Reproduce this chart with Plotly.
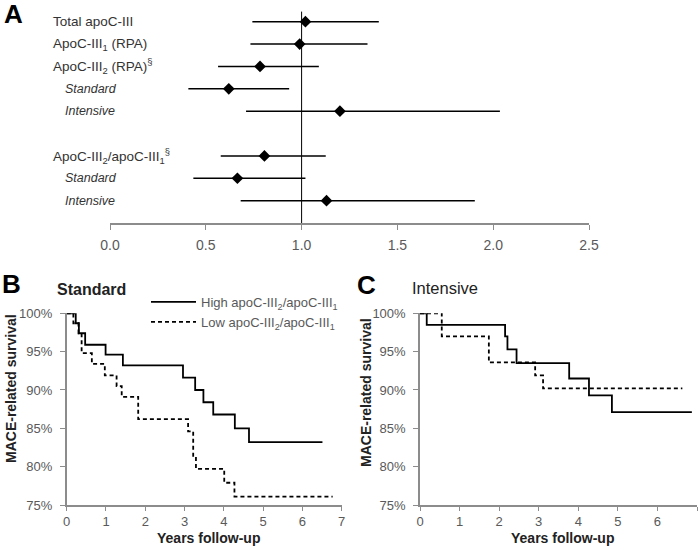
import plotly.graph_objects as go

FONT = "Liberation Sans, Arial, sans-serif"
W, H = 700, 550

# ---------------- Panel A data (forest plot) ----------------
row_labels = ["Total apoC-III", "ApoC-III<sub>1</sub> (RPA)", "ApoC-III<sub>2</sub> (RPA)<sup>§</sup>",
              "<i>Standard</i>", "<i>Intensive</i>",
              "ApoC-III<sub>2</sub>/apoC-III<sub>1</sub><sup>§</sup>", "<i>Standard</i>", "<i>Intensive</i>"]
row_pos = [0, 1, 2, 3, 4, 6, 7, 8]
row_indent = [False, False, False, True, True, False, True, True]
est = [1.02, 0.99, 0.783, 0.62, 1.20, 0.806, 0.665, 1.13]
ci_lo = [0.743, 0.733, 0.564, 0.409, 0.71, 0.578, 0.435, 0.682]
ci_hi = [1.403, 1.344, 1.09, 0.935, 2.035, 1.126, 1.02, 1.904]
ref_value = 1.0
a_ticks = [0.0, 0.5, 1.0, 1.5, 2.0, 2.5]

# ---------------- Panel B data (Standard) ----------------
b_high_t = [0, 0.23, 0.31, 0.47, 0.99, 1.43, 2.96, 3.27, 3.48, 3.73, 4.28, 4.64, 6.51]
b_high_s = [100, 98.7, 97.4, 95.9, 94.6, 93.2, 91.6, 90.0, 88.4, 86.8, 85.0, 83.2, 83.2]
b_low_t = [0, 0.17, 0.3, 0.38, 0.64, 0.97, 1.27, 1.4, 1.82, 3.09, 3.22, 3.29, 4.01, 4.27, 6.77]
b_low_s = [100, 98.7, 97.4, 94.8, 93.4, 91.9, 90.5, 89.1, 86.2, 84.6, 81.4, 79.7, 77.9, 76.1, 76.1]

# ---------------- Panel C data (Intensive) ----------------
c_high_t = [0, 0.17, 2.15, 2.21, 2.44, 3.77, 4.27, 4.85, 6.87]
c_high_s = [100, 98.5, 97.0, 95.3, 93.5, 91.5, 89.3, 87.1, 87.1]
c_low_t = [0, 0.55, 1.74, 2.91, 3.11, 6.63]
c_low_s = [100, 97.0, 93.6, 91.9, 90.2, 90.2]

km_xticks = [0, 1, 2, 3, 4, 5, 6, 7]
km_yticks = [75, 80, 85, 90, 95, 100]
km_ytext = [f"{v}%" for v in km_yticks]

legend_high = "High apoC-III<sub>2</sub>/apoC-III<sub>1</sub>"
legend_low = "Low apoC-III<sub>2</sub>/apoC-III<sub>1</sub>"

TICKC = "#595959"
AXC = "#8c8c8c"
TXT = "#222222"

def px_x(p):
    return p / W

def px_y(p):
    return 1 - p / H

fig = go.Figure()

# Panel A
fig.add_trace(go.Scatter(x=[ref_value, ref_value], y=[-0.45, 9], mode="lines",
                         line=dict(color="black", width=1), xaxis="x", yaxis="y",
                         showlegend=False, hoverinfo="skip"))
fig.add_trace(go.Scatter(
    x=est, y=row_pos, mode="markers", xaxis="x", yaxis="y", showlegend=False,
    marker=dict(symbol="diamond", size=9, color="black"),
    error_x=dict(type="data", symmetric=False,
                 array=[h - e for h, e in zip(ci_hi, est)],
                 arrayminus=[e - l for e, l in zip(est, ci_lo)],
                 color="black", thickness=1.5, width=0)))

# Panel B
fig.add_trace(go.Scatter(x=b_high_t, y=b_high_s, mode="lines", line_shape="hv",
                         line=dict(color="black", width=1.8), name=legend_high,
                         xaxis="x2", yaxis="y2", showlegend=True))
fig.add_trace(go.Scatter(x=b_low_t, y=b_low_s, mode="lines", line_shape="hv",
                         line=dict(color="black", width=1.8, dash="4px,3px"), name=legend_low,
                         xaxis="x2", yaxis="y2", showlegend=True))
# Panel C
fig.add_trace(go.Scatter(x=c_high_t, y=c_high_s, mode="lines", line_shape="hv",
                         line=dict(color="black", width=1.8), name=legend_high,
                         xaxis="x3", yaxis="y3", showlegend=False))
fig.add_trace(go.Scatter(x=c_low_t, y=c_low_s, mode="lines", line_shape="hv",
                         line=dict(color="black", width=1.8, dash="4px,3px"), name=legend_low,
                         xaxis="x3", yaxis="y3", showlegend=False))

tickfont = dict(family=FONT, size=13, color=TICKC)

km_x = dict(range=[0, 7], tickvals=km_xticks, showline=True, linecolor=AXC, linewidth=1.5,
            ticks="outside", ticklen=4, tickcolor=AXC, tickwidth=1, showgrid=False,
            zeroline=False, tickfont=tickfont, fixedrange=True, automargin=False)
km_y = dict(range=[75, 100], tickvals=km_yticks, ticktext=km_ytext, showline=True,
            linecolor=AXC, linewidth=1.5, ticks="outside", ticklen=5, tickcolor=AXC,
            tickwidth=1, showgrid=False, zeroline=False, tickfont=tickfont,
            ticklabelstandoff=5, fixedrange=True, automargin=False)

km_ydom = [px_y(505), px_y(313.3)]

fig.update_layout(
    template="none",
    width=W, height=H, margin=dict(l=0, r=0, t=0, b=0, pad=0, autoexpand=False),
    paper_bgcolor="white", plot_bgcolor="white",
    font=dict(family=FONT, color=TXT),
    xaxis=dict(domain=[px_x(110), px_x(589)], range=[0, 2.5], tickvals=a_ticks,
               tickformat=".1f", showline=True, linecolor=AXC, linewidth=1.5,
               ticks="outside", ticklen=5, tickcolor=AXC, showgrid=False, zeroline=False,
               tickfont=dict(family=FONT, size=14, color=TICKC), anchor="y",
               ticklabelstandoff=3, fixedrange=True, automargin=False),
    yaxis=dict(domain=[px_y(223), px_y(223 - 9.6 * 22.37)], range=[9, -0.6],
               visible=False, fixedrange=True, automargin=False),
    xaxis2=dict(domain=[px_x(66.7), px_x(341.7)], anchor="y2", **km_x),
    yaxis2=dict(domain=km_ydom, anchor="x2", **km_y),
    xaxis3=dict(domain=[px_x(420), px_x(697)], anchor="y3", **km_x),
    yaxis3=dict(domain=km_ydom, anchor="x3", **km_y),
    legend=dict(x=px_x(146), y=px_y(287), xanchor="left", yanchor="top",
                font=dict(family=FONT, size=13, color=TICKC), bgcolor="rgba(0,0,0,0)",
                tracegroupgap=0, itemwidth=45),
)

ann = []
# Row labels panel A
for lab, pos, ind in zip(row_labels, row_pos, row_indent):
    ann.append(dict(text=lab, x=px_x(63 if ind else 51), y=pos, xref="paper", yref="y",
                    xanchor="left", yanchor="middle", showarrow=False,
                    font=dict(family=FONT, size=12.5 if ind else 13.5, color="#333333")))
# Panel letters
for letter, x, y in [("A", 13, 14), ("B", 11, 284), ("C", 367, 285)]:
    ann.append(dict(text=f"<b>{letter}</b>", x=px_x(x), y=px_y(y), xref="paper", yref="paper",
                    xanchor="center", yanchor="middle", showarrow=False,
                    font=dict(family=FONT, size=26, color="black")))
# Panel titles
ann.append(dict(text="<b>Standard</b>", x=px_x(55), y=px_y(289), xref="paper", yref="paper",
                xanchor="left", yanchor="middle", showarrow=False,
                font=dict(family=FONT, size=16, color=TXT)))
ann.append(dict(text="Intensive", x=px_x(410), y=px_y(288), xref="paper", yref="paper",
                xanchor="left", yanchor="middle", showarrow=False,
                font=dict(family=FONT, size=16.5, color=TXT)))
# Axis titles
for x, y in [(11, 389), (366, 393)]:
    ann.append(dict(text="<b>MACE-related survival</b>", x=px_x(x), y=px_y(y), xref="paper",
                    yref="paper", xanchor="center", yanchor="middle", textangle=-90,
                    showarrow=False, font=dict(family=FONT, size=14, color=TXT)))
for x, y in [(208, 538), (562, 538)]:
    ann.append(dict(text="<b>Years follow-up</b>", x=px_x(x), y=px_y(y), xref="paper",
                    yref="paper", xanchor="center", yanchor="middle", showarrow=False,
                    font=dict(family=FONT, size=14, color=TXT)))
fig.update_layout(annotations=ann)

fig.write_html("out.html", config={"displayModeBar": False},
               post_script="document.body.style.margin='0';document.body.style.padding='0';"
                           "document.documentElement.style.overflow='hidden';")
